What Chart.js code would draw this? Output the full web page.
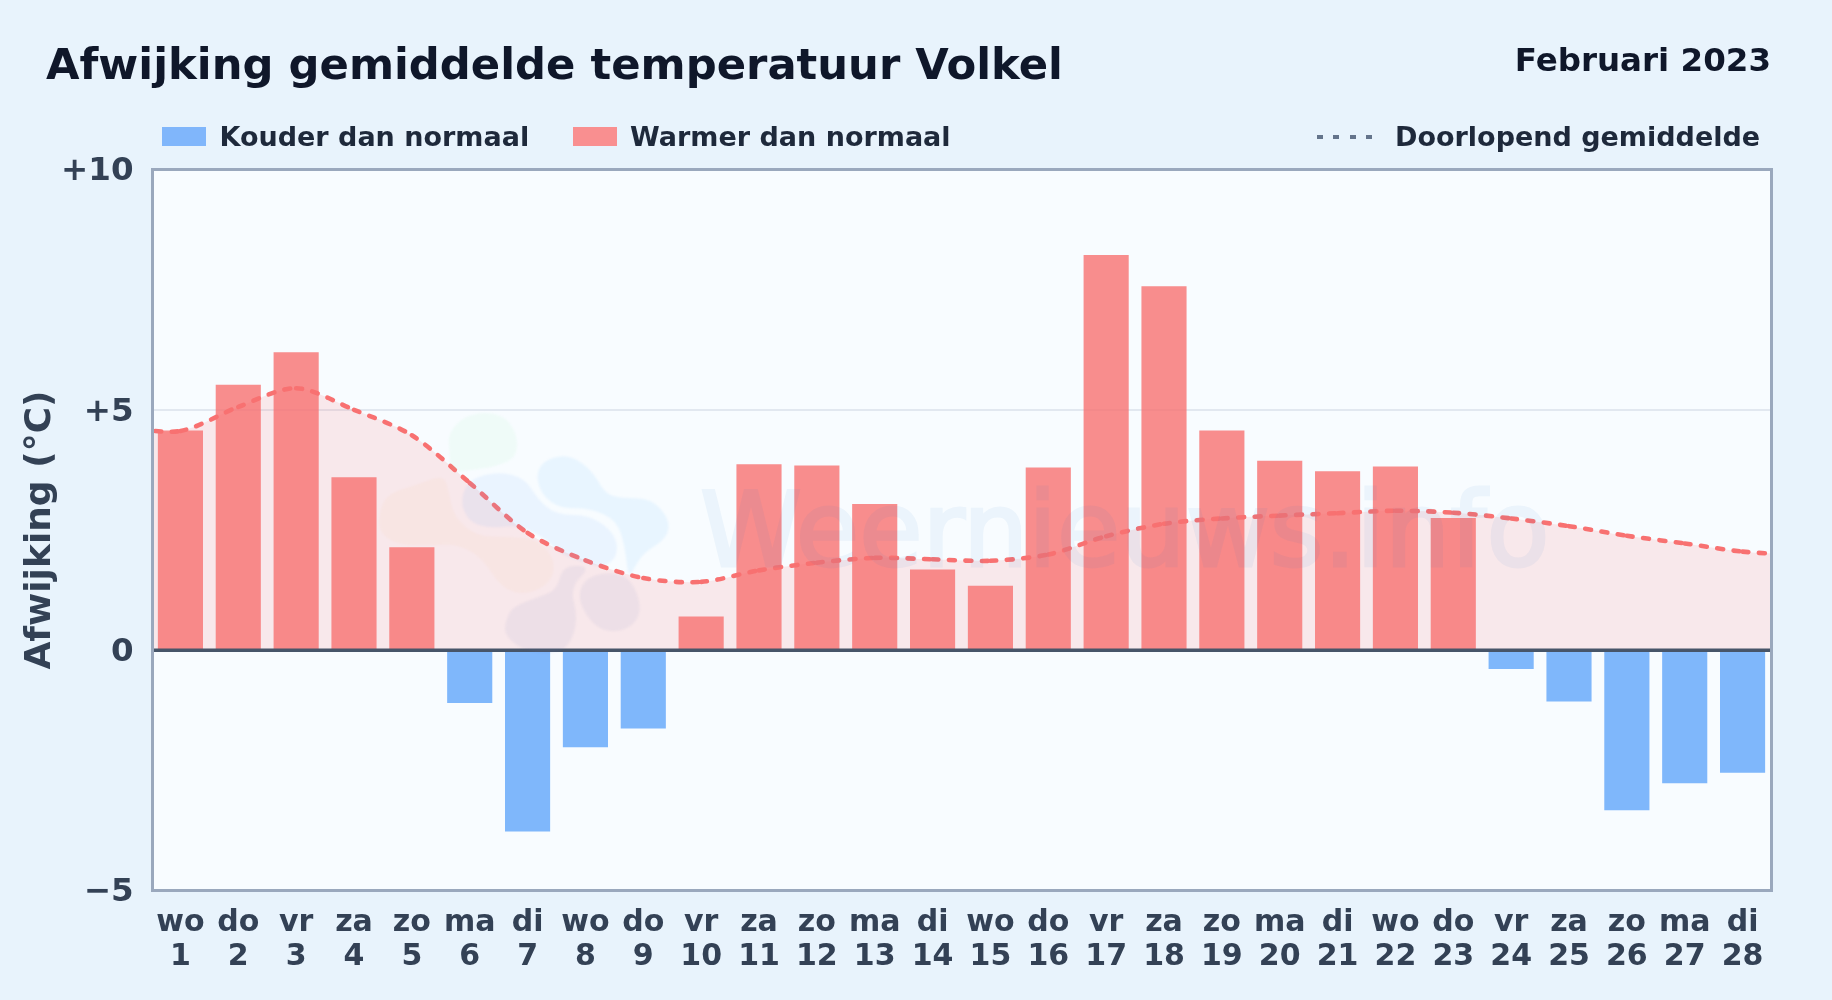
<!DOCTYPE html>
<html lang="nl"><head><meta charset="utf-8">
<script src="https://cdn.jsdelivr.net/npm/chart.js@4"></script>
<style>
html,body{margin:0;padding:0;background:#e8f3fc;width:1832px;height:1000px;overflow:hidden}
#wrap{position:relative;width:1832px;height:1000px;font-family:"DejaVu Sans",sans-serif;font-weight:700}
canvas{position:absolute;left:0;top:0}
.t{position:absolute;white-space:nowrap;line-height:1}
.sw{position:absolute;top:127px;width:44px;height:19px}
#dots{position:absolute;left:1317px;top:135px;width:56px;height:4px;background:repeating-linear-gradient(90deg,#64748b 0 6px,transparent 6px 16.4px)}
#wm{position:absolute;left:700px;top:479px;font-size:103px;font-weight:400;line-height:1;color:#2f7bc8;-webkit-text-stroke:3px #2f7bc8;opacity:.06;white-space:nowrap;pointer-events:none;filter:blur(.6px)}
</style></head><body>
<div id="wrap">
<canvas id="c" width="1832" height="1000"></canvas>
<div class="t" style="left:46px;top:43px;font-size:43.3px;color:#0f172a">Afwijking gemiddelde temperatuur Volkel</div>
<div class="t" style="right:61px;top:43.5px;font-size:32.5px;color:#0f172a">Februari 2023</div>
<div class="sw" style="left:162px;background:#80b6fb"></div>
<div class="t" style="left:219.5px;top:123.4px;font-size:27px;color:#1e293b">Kouder dan normaal</div>
<div class="sw" style="left:573px;background:#f98f90"></div>
<div class="t" style="left:630px;top:123.4px;font-size:27px;color:#1e293b">Warmer dan normaal</div>
<div id="dots"></div>
<div class="t" style="left:1395px;top:123.4px;font-size:27px;color:#1e293b">Doorlopend gemiddelde</div>
<div id="wm">Weernieuws.info</div>
</div>
<script>
const days = [1,2,3,4,5,6,7,8,9,10,11,12,13,14,15,16,17,18,19,20,21,22,23,24,25,26,27,28];
const weekdays = ["wo","do","vr","za","zo","ma","di","wo","do","vr","za","zo","ma","di","wo","do","vr","za","zo","ma","di","wo","do","vr","za","zo","ma","di"];
const deviation = [4.57,5.52,6.2,3.6,2.14,-1.1,-3.77,-2.02,-1.63,0.7,3.87,3.84,3.04,1.68,1.34,3.8,8.22,7.57,4.57,3.94,3.72,3.82,2.75,-0.39,-1.07,-3.33,-2.77,-2.55];
const averageDays = [0,1,2,3,4,5,6,7,8,9,10,11,12,13,14,15,16,17,18,19,20,21,22,23,24,25,26,27,28,29];
const runningAverage = [4.64,4.56,5.06,5.45,5.0,4.47,3.48,2.44,1.87,1.5,1.42,1.66,1.82,1.92,1.89,1.86,1.99,2.37,2.63,2.74,2.8,2.85,2.9,2.86,2.74,2.58,2.38,2.22,2.05,1.98];
const yTicks = [-5,0,5,10];
const yLabels = ["\u22125","0","+5","+10"];

const COLD="rgba(96,165,250,.8)", WARM="rgba(248,113,113,.8)";
const bars = days.map((d,i)=>({x:d,y:deviation[i]}));
const avg = averageDays.map((d,i)=>({x:d,y:runningAverage[i]}));

// faint logo behind the watermark text (decoration only)
const logoBlobs = [
 {c:"rgba(134,239,172,.08)",p:[[265,130],[310,80],[380,65],[445,85],[475,150],[465,205],[410,228],[330,242],[272,245],[268,180]]},
 {c:"rgba(251,191,100,.055)",p:[[55,390],[75,315],[170,285],[250,255],[265,300],[280,380],[350,440],[450,440],[535,450],[585,510],[575,575],[500,615],[425,595],[365,500],[290,462],[220,465],[120,465],[65,435]]},
 {c:"rgba(96,165,250,.09)",p:[[300,330],[330,265],[420,245],[495,265],[535,330],[590,375],[690,375],[765,430],[775,495],[730,535],[650,510],[600,490],[550,440],[470,405],[390,415],[325,395]]},
 {c:"rgba(125,200,252,.12)",p:[[527,250],[560,205],[630,195],[695,240],[735,310],[780,325],[875,325],[930,390],[920,445],[850,490],[825,530],[805,565],[795,470],[770,390],[690,355],[600,355],[545,315]]},
 {c:"rgba(100,116,180,.07)",p:[[435,700],[455,650],[540,620],[590,600],[610,525],[695,530],[630,590],[655,690],[625,775],[560,795],[480,775],[435,735]]},
 {c:"rgba(100,116,180,.07)",p:[[650,620],[680,560],[760,545],[815,570],[845,650],[825,705],[760,730],[695,705]]}
];
function blobPath(ctx,pts){
  const P=pts.map(([x,y])=>[360+x/3,390+y/3]),n=P.length;
  ctx.beginPath();
  for(let i=0;i<n;i++){
    const a=P[i],b=P[(i+1)%n],m=[(a[0]+b[0])/2,(a[1]+b[1])/2];
    if(i===0){const z=P[n-1];ctx.moveTo((z[0]+a[0])/2,(z[1]+a[1])/2);}
    ctx.quadraticCurveTo(a[0],a[1],m[0],m[1]);
  }
  ctx.closePath();
}
const frame={id:"frame",
  beforeDraw(ch){const{ctx,chartArea:a}=ch;ctx.save();ctx.fillStyle="#f8fcff";ctx.fillRect(a.left,a.top,a.width,a.height);ctx.restore();},
  afterDatasetsDraw(ch){
    const{ctx,chartArea:a,scales:{y}}=ch;const z=y.getPixelForValue(0);
    ctx.save();
    ctx.strokeStyle="#475569";ctx.lineWidth=3.5;ctx.beginPath();ctx.moveTo(a.left,z);ctx.lineTo(a.right,z);ctx.stroke();
    ctx.strokeStyle="#9aa8bd";ctx.lineWidth=3;ctx.strokeRect(a.left+1,a.top,a.width-1,a.height);
    ctx.filter="blur(1px)";
    for(const b of logoBlobs){ctx.fillStyle=b.c;blobPath(ctx,b.p);ctx.fill();}
    ctx.restore();
  }};

new Chart(document.getElementById("c"),{
  data:{datasets:[
    {type:"line",data:avg,order:3,borderWidth:0,pointRadius:0,tension:.3,fill:{value:0},backgroundColor:"rgba(248,113,113,.14)"},
    {type:"bar",data:bars,order:2,barPercentage:.78,categoryPercentage:1,backgroundColor:c=>c.raw&&c.raw.y<0?COLD:WARM,borderWidth:0},
    {type:"line",data:avg,order:1,borderColor:"#f87171",borderWidth:4.6,borderDash:[6,10.4],borderCapStyle:"round",pointRadius:0,tension:.3,fill:false,
      segment:{borderWidth:c=>4.6+(c.p0DataIndex%2)*.001}}
  ]},
  plugins:[frame],
  options:{
    responsive:false,animation:false,devicePixelRatio:1,
    layout:{padding:{top:169.5,left:0,right:60.5,bottom:0}},
    plugins:{legend:{display:false},tooltip:{enabled:false},title:{display:false},filler:{drawTime:"beforeDatasetsDraw"}},
    scales:{
      x:{type:"linear",min:.5,max:28.5,offset:false,
        afterBuildTicks(s){s.ticks=days.map(d=>({value:d}));},
        afterFit(s){s.height=109.5;},
        grid:{display:false,offset:false},border:{display:false},
        ticks:{autoSkip:false,maxRotation:0,padding:8,color:"#334155",font:{family:"DejaVu Sans",size:30,weight:"bold",lineHeight:1.12},
          callback:(v,i)=>[weekdays[i],String(days[i])]}},
      y:{min:-5,max:10,
        afterBuildTicks(s){s.ticks=yTicks.map(v=>({value:v}));},
        afterFit(s){s.width=151.5;},
        border:{display:false},
        grid:{drawTicks:false,color:c=>c.tick&&c.tick.value===5?"#e2e8f0":"transparent",lineWidth:2},
        ticks:{padding:18,color:"#334155",font:{family:"DejaVu Sans",size:32.5,weight:"bold",lineHeight:"4.5px"},callback:(v,i)=>["",yLabels[yTicks.indexOf(v)]]},
        title:{display:true,text:"Afwijking (\u00b0C)",color:"#334155",padding:{top:19,bottom:0},font:{family:"DejaVu Sans",size:36,weight:"bold"}}}
    }
  }
});
</script>
</body></html>
